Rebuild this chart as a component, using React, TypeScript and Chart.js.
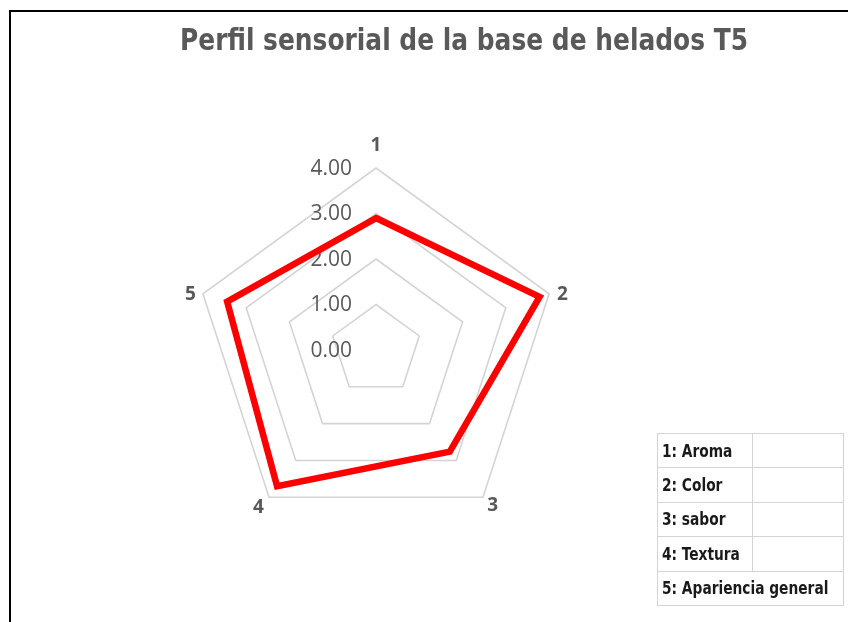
import React, { useEffect, useRef } from "react";
import { Chart, registerables } from "chart.js";

Chart.register(...registerables);

const titleText = "Perfil sensorial de la base de helados T5";
const axisLabels = ["1", "2", "3", "4", "5"];
const seriesValues = [2.9, 3.78, 2.76, 3.7, 3.44];
const tickValues = [0, 1, 2, 3, 4];
const legendRows = ["1: Aroma", "2: Color", "3: sabor", "4: Textura", "5: Apariencia general"];

const GRAY = "#595959";
const LABEL_NUDGE = [
  [0, -9],
  [1, 5],
  [2, -2],
  [-3, 0],
  [0, 5],
];

const labelsPlugin = {
  id: "customLabels",
  beforeDatasetsDraw(chart: any) {
    const scale = chart.scales.r;
    const ctx = chart.ctx;
    ctx.save();
    ctx.font = '21px "Open Sans"';
    ctx.fillStyle = GRAY;
    ctx.textAlign = "right";
    ctx.textBaseline = "middle";
    tickValues.forEach((v) => {
      const d = scale.getDistanceFromCenterForValue(v);
      ctx.fillText(v.toFixed(2), scale.xCenter - 24, scale.yCenter - d + 1);
    });
    ctx.restore();
  },
  afterDraw(chart: any) {
    const scale = chart.scales.r;
    const ctx = chart.ctx;
    ctx.save();
    ctx.font = 'bold 19px "Open Sans"';
    ctx.fillStyle = GRAY;
    ctx.textAlign = "center";
    ctx.textBaseline = "middle";
    axisLabels.forEach((lab, i) => {
      const pos = scale.getPointPosition(i, scale.drawingArea + 13);
      ctx.fillText(lab, pos.x + LABEL_NUDGE[i][0], pos.y + LABEL_NUDGE[i][1]);
    });
    // title, fitted to the reference width
    ctx.font = 'bold 30px "DejaVu Sans Condensed", sans-serif';
    ctx.fillStyle = GRAY;
    ctx.textAlign = "center";
    ctx.textBaseline = "middle";
    const w = ctx.measureText(titleText).width;
    const sx = 568 / w;
    ctx.translate(464, 42);
    ctx.scale(sx, 1);
    ctx.fillText(titleText, 0, 0);
    ctx.restore();
  },
};

export default function App() {
  const canvasRef = useRef<HTMLCanvasElement | null>(null);

  useEffect(() => {
    if (!canvasRef.current) return;
    const chart = new Chart(canvasRef.current, {
      type: "radar",
      data: {
        labels: axisLabels,
        datasets: [
          {
            label: "T5",
            data: seriesValues,
            borderColor: "#ff0000",
            borderWidth: 6.5,
            pointRadius: 0,
            pointHoverRadius: 0,
            fill: false,
            tension: 0,
            borderJoinStyle: "miter",
          },
        ],
      },
      options: {
        responsive: false,
        animation: false,
        devicePixelRatio: 1,
        layout: { padding: { left: 194, right: 290, top: 168, bottom: 90 } },
        plugins: {
          legend: { display: false },
          title: { display: false },
          tooltip: { enabled: false },
        },
        scales: {
          r: {
            min: 0,
            max: 4,
            ticks: { display: false, stepSize: 1 },
            pointLabels: { display: false },
            angleLines: { display: false },
            grid: { color: "#d4d4d4", lineWidth: 1.6, circular: false },
          },
        },
      },
      plugins: [labelsPlugin],
    } as any);
    return () => chart.destroy();
  }, []);

  const rowH = 34.4;
  const cellText = (r: string) => (
    <span style={{ display: "inline-block", transform: "scaleX(0.9)", transformOrigin: "left center" }}>{r}</span>
  );
  return (
    <div style={{ position: "absolute", left: 0, top: 0, width: 848, height: 622, background: "#fff", overflow: "hidden" }}>
      <div
        style={{
          position: "absolute",
          left: 9,
          top: 10,
          right: -4,
          bottom: -4,
          borderTop: "2px solid #000",
          borderLeft: "2px solid #000",
        }}
      />
      <canvas ref={canvasRef} width={848} height={622} style={{ position: "absolute", left: 0, top: 0, display: "block" }} />
      <table
        style={{
          position: "absolute",
          left: 657,
          top: 433,
          width: 186,
          borderCollapse: "collapse",
          fontFamily: '"DejaVu Sans Condensed", sans-serif',
          fontWeight: "bold",
          fontSize: 17,
          color: "#1a1a1a",
          tableLayout: "fixed",
        }}
      >
        <colgroup>
          <col style={{ width: 95 }} />
          <col style={{ width: 91 }} />
        </colgroup>
        <tbody>
          {legendRows.map((r, i) => (
            <tr key={i} style={{ height: rowH }}>
              {i < 4 ? (
                <>
                  <td style={{ border: "1px solid #d4d4d4", padding: "0 0 0 4px", whiteSpace: "nowrap" }}>{cellText(r)}</td>
                  <td style={{ border: "1px solid #d4d4d4", padding: 0 }}></td>
                </>
              ) : (
                <td colSpan={2} style={{ border: "1px solid #d4d4d4", padding: "0 0 0 4px", whiteSpace: "nowrap" }}>
                  {cellText(r)}
                </td>
              )}
            </tr>
          ))}
        </tbody>
      </table>
    </div>
  );
}
